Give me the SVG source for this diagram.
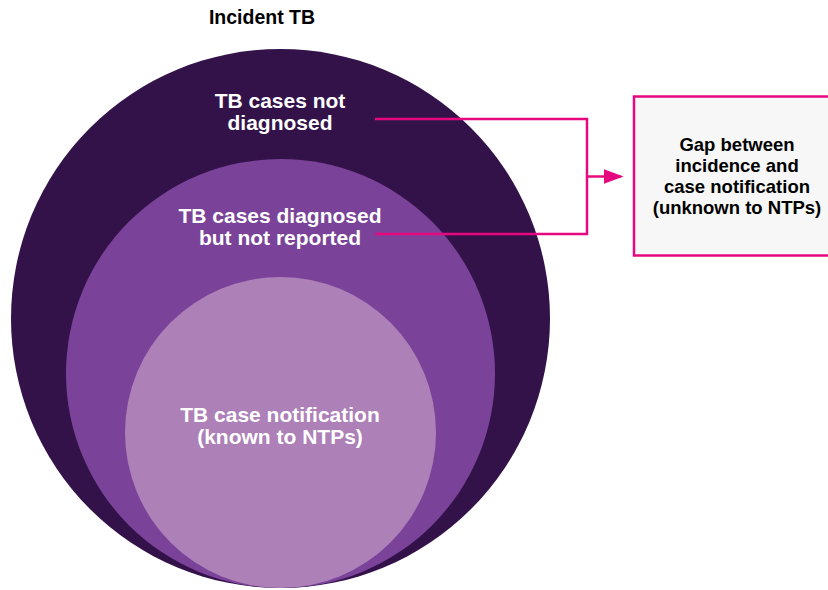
<svg xmlns="http://www.w3.org/2000/svg" width="828" height="590" viewBox="0 0 828 590">
<style>
text{font-family:"Liberation Sans",Arial,sans-serif;font-weight:bold;text-anchor:middle}
.w{fill:#ffffff;font-size:21px}
.k{fill:#000000}
.b{font-size:18.5px}
.c{fill:none;stroke:#e6087f;stroke-width:2.5}
</style>
<defs>
<marker id="ah" markerWidth="8" markerHeight="6" refX="7" refY="3" orient="auto" markerUnits="strokeWidth">
<path d="M0,0 L8,3 L0,6 Z" fill="#e6087f"/>
</marker>
</defs>
<rect width="828" height="590" fill="#ffffff"/>
<g id="title"><text class="k" x="262" y="24" style="font-size:19.5px">Incident TB</text></g>
<g id="outer">
<circle cx="280.5" cy="318.5" r="269.5" fill="#33124a"/>
<text class="w" x="280" y="108">TB cases not</text>
<text class="w" x="280" y="130">diagnosed</text>
</g>
<g id="middle">
<circle cx="280.5" cy="373.5" r="214.5" fill="#7a4399"/>
<text class="w" x="280" y="223">TB cases diagnosed</text>
<text class="w" x="280" y="245">but not reported</text>
</g>
<g id="inner">
<circle cx="280.5" cy="432.5" r="155.5" fill="#ad80b8"/>
<text class="w" x="280" y="422">TB case notification</text>
<text class="w" x="280" y="444">(known to NTPs)</text>
</g>
<g id="connectors">
<polyline class="c" points="375,119 587,119 587,234 375,234"/>
<line class="c" x1="587" y1="176.5" x2="621" y2="176.5" marker-end="url(#ah)"/>
</g>
<g id="gap">
<rect x="634" y="96.5" width="200" height="159" fill="#f7f7f7" stroke="#e6087f" stroke-width="2.5"/>
<text class="k b" x="737" y="151">Gap between</text>
<text class="k b" x="737" y="172">incidence and</text>
<text class="k b" x="737" y="193">case notification</text>
<text class="k b" x="737" y="214">(unknown to NTPs)</text>
</g>
</svg>
